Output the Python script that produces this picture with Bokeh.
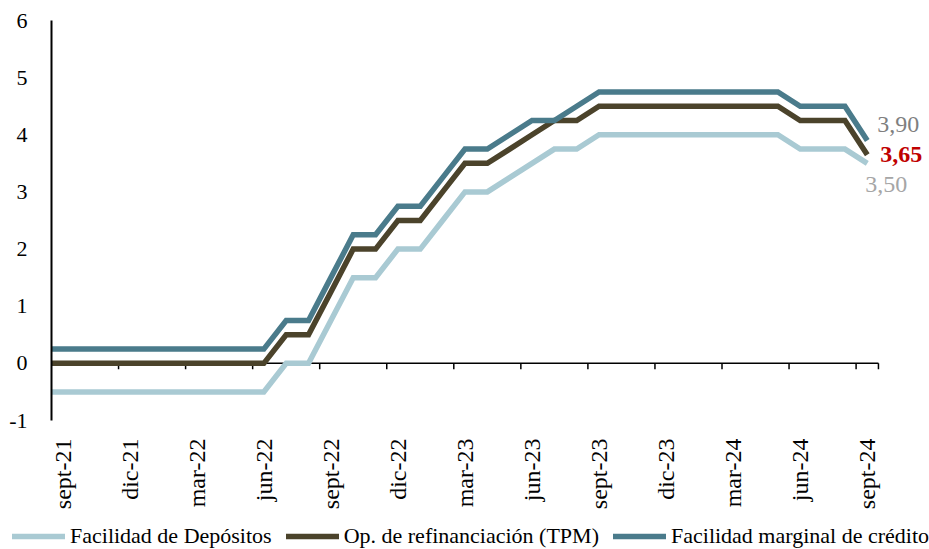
import math
from bokeh.plotting import figure
from bokeh.layouts import column
from bokeh.models import FixedTicker, Legend, LegendItem
from bokeh.core.properties import value
from bokeh.embed import file_html
from bokeh.resources import INLINE

FONT = "Liberation Serif"

months = ["ago-21", "sept-21", "oct-21", "nov-21", "dic-21",
          "ene-22", "feb-22", "mar-22", "abr-22", "may-22", "jun-22", "jul-22",
          "ago-22", "sept-22", "oct-22", "nov-22", "dic-22",
          "ene-23", "feb-23", "mar-23", "abr-23", "may-23", "jun-23", "jul-23",
          "ago-23", "sept-23", "oct-23", "nov-23", "dic-23",
          "ene-24", "feb-24", "mar-24", "abr-24", "may-24", "jun-24", "jul-24",
          "ago-24", "sept-24"]

deposito = [-0.5, -0.5, -0.5, -0.5, -0.5,
            -0.5, -0.5, -0.5, -0.5, -0.5, -0.5, 0.0,
            0.0, 0.75, 1.5, 1.5, 2.0,
            2.0, 2.5, 3.0, 3.0, 3.25, 3.5, 3.75,
            3.75, 4.0, 4.0, 4.0, 4.0,
            4.0, 4.0, 4.0, 4.0, 4.0, 3.75, 3.75,
            3.75, 3.5]

tpm = [0.0, 0.0, 0.0, 0.0, 0.0,
       0.0, 0.0, 0.0, 0.0, 0.0, 0.0, 0.5,
       0.5, 1.25, 2.0, 2.0, 2.5,
       2.5, 3.0, 3.5, 3.5, 3.75, 4.0, 4.25,
       4.25, 4.5, 4.5, 4.5, 4.5,
       4.5, 4.5, 4.5, 4.5, 4.5, 4.25, 4.25,
       4.25, 3.65]

marginal = [0.25, 0.25, 0.25, 0.25, 0.25,
            0.25, 0.25, 0.25, 0.25, 0.25, 0.25, 0.75,
            0.75, 1.5, 2.25, 2.25, 2.75,
            2.75, 3.25, 3.75, 3.75, 4.0, 4.25, 4.25,
            4.5, 4.75, 4.75, 4.75, 4.75,
            4.75, 4.75, 4.75, 4.75, 4.75, 4.5, 4.5,
            4.5, 3.9]

tick_labels = ["sept-21", "dic-21", "mar-22", "jun-22", "sept-22", "dic-22",
               "mar-23", "jun-23", "sept-23", "dic-23", "mar-24", "jun-24", "sept-24"]

y_ticks = [-1, 0, 1, 2, 3, 4, 5, 6]

series_names = ["Facilidad de Depósitos", "Op. de refinanciación (TPM)",
                "Facilidad marginal de crédito"]
colors = ["#A9CAD3", "#4B432B", "#4A7B8B"]
LINE_W = 5.5

# x index: "sept-21" = 0
x = [i - 1 for i in range(len(months))]
tick_pos = [x[i] for i, m in enumerate(months) if m in tick_labels]
overrides = {x[i]: m for i, m in enumerate(months) if m in tick_labels}
x_start = tick_pos[0] - 0.5
x_end_axis = tick_pos[-1] + 0.5
bounds = [t - 0.5 for t in tick_pos[1:]] + [x_end_axis]

W = 929
LEFT = 51
FRAME_W = W - LEFT     # frame runs to the right edge to host end labels
PX_PER_MONTH = 22.35
x_end_frame = x_start + FRAME_W / PX_PER_MONTH

p = figure(width=W, height=512, output_backend="svg", toolbar_location=None,
           x_range=(x_start, x_end_frame), y_range=(y_ticks[0], y_ticks[-1]),
           min_border_left=LEFT, min_border_right=0, min_border_top=20,
           min_border_bottom=92)
p.frame_align = False
p.outline_line_color = None
p.xgrid.visible = False
p.ygrid.visible = False
p.background_fill_color = "white"

# horizontal axis line at zero with downward tick marks
p.segment(x0=[x_start], y0=[0], x1=[x_end_axis], y1=[0],
          line_color="black", line_width=1.5)
p.segment(x0=bounds, y0=0, x1=bounds, y1=-0.105, line_color="black", line_width=1.5)

for vals, c in zip([deposito, tpm, marginal], colors):
    p.line(x, vals, line_color=c, line_width=LINE_W, line_join="miter")

# axes
xa = p.xaxis[0]
xa.ticker = FixedTicker(ticks=tick_pos)
xa.major_label_overrides = overrides
xa.major_label_orientation = math.pi / 2
xa.axis_line_color = None
xa.major_tick_line_color = None
xa.minor_tick_line_color = None
xa.major_tick_out = 0
xa.major_tick_in = 0
xa.major_label_standoff = 18
xa.major_label_text_font = FONT
xa.major_label_text_font_size = "24px"
xa.major_label_text_color = "black"

ya = p.yaxis[0]
ya.ticker = FixedTicker(ticks=y_ticks)
ya.major_label_overrides = {t: str(t) for t in y_ticks}
ya.axis_line_color = "black"
ya.axis_line_width = 2
ya.major_tick_line_color = None
ya.minor_tick_line_color = None
ya.major_tick_out = 0
ya.major_tick_in = 0
ya.major_label_standoff = 24
ya.major_label_text_font = FONT
ya.major_label_text_font_size = "22px"
ya.major_label_text_color = "black"

# end labels (inside the extended frame)
end_specs = [(marginal, "#7F7F7F", "normal", 10, -16),
             (tpm, "#C00000", "bold", 13, 0),
             (deposito, "#A6A6A6", "normal", -2, 21)]
for vals, col, style, dx, dy in end_specs:
    p.text(x=[x[-1]], y=[vals[-1]], text=[f"{vals[-1]:.2f}".replace(".", ",")],
           x_offset=dx, y_offset=dy,
           text_font=value(FONT), text_font_size="24px",
           text_font_style=style, text_color=col,
           text_align="left", text_baseline="middle")

# legend strip (separate figure; legend proxies share the series styles)
pl = figure(width=W, height=37, output_backend="svg", toolbar_location=None,
            x_axis_location=None, y_axis_location=None,
            x_range=(0, 1), y_range=(0, 1),
            min_border_left=0, min_border_right=0, min_border_top=0,
            min_border_bottom=0)
pl.frame_align = False
pl.outline_line_color = None
pl.xgrid.visible = False
pl.ygrid.visible = False
nan = float("nan")
proxies = [pl.line(x=[nan], y=[nan], line_color=c, line_width=LINE_W, line_cap="round")
           for c in colors]
legend = Legend(items=[LegendItem(label=n, renderers=[r])
                       for n, r in zip(series_names, proxies)],
                orientation="horizontal", location=(12, 0),
                padding=0, margin=0, spacing=14, glyph_width=53, glyph_height=24,
                label_standoff=5, border_line_color=None, background_fill_alpha=0,
                label_text_font=FONT, label_text_font_size="22px",
                label_text_color="black", label_text_baseline="middle")
pl.add_layout(legend)

open("out.html", "w").write(file_html(column(p, pl), INLINE))
